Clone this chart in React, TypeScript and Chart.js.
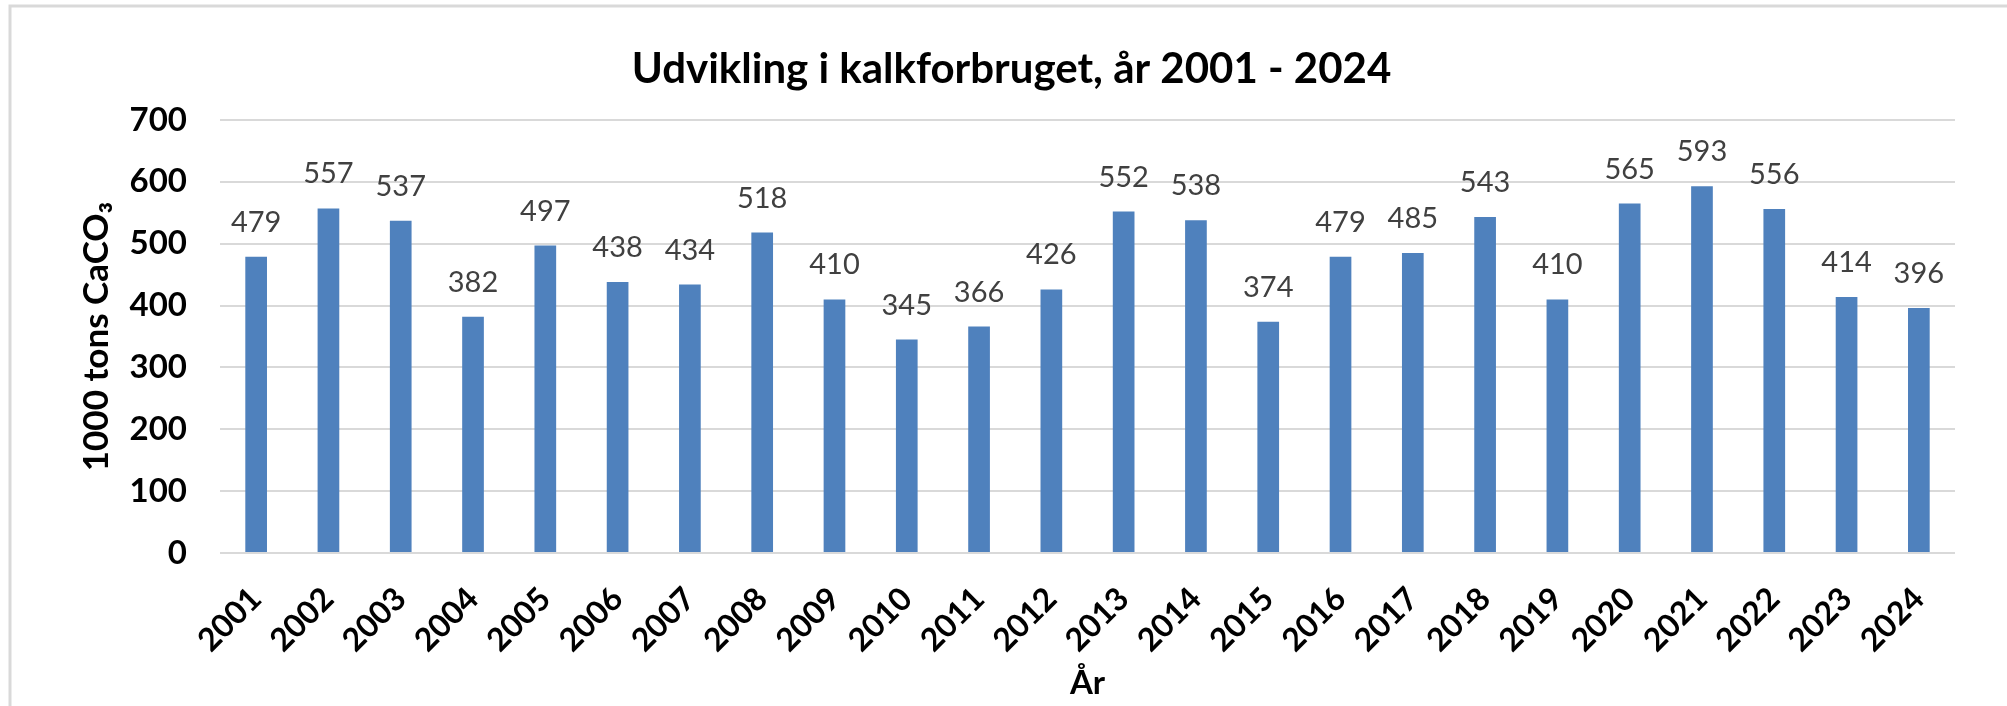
import React, { useEffect, useRef } from "react";
import { Chart, registerables } from "chart.js";

Chart.register(...registerables);

const years = [
  "2001", "2002", "2003", "2004", "2005", "2006", "2007", "2008",
  "2009", "2010", "2011", "2012", "2013", "2014", "2015", "2016",
  "2017", "2018", "2019", "2020", "2021", "2022", "2023", "2024",
];
const consumption = [
  479, 557, 537, 382, 497, 438, 434, 518,
  410, 345, 366, 426, 552, 538, 374, 479,
  485, 543, 410, 565, 593, 556, 414, 396,
];
const yMin = 0;
const yMax = 700;
const yStep = 100;
const chartTitle = "Udvikling i kalkforbruget, år 2001 - 2024";
const yAxisTitle = "1000 tons CaCO₃";
const xAxisTitle = "År";

const FONT = "Lato, 'Open Sans', sans-serif";

const framePlugin = {
  id: "frame",
  beforeDraw(chart: any) {
    const { ctx, width, height } = chart;
    ctx.save();
    ctx.fillStyle = "#ffffff";
    ctx.fillRect(0, 0, width, height);
    ctx.strokeStyle = "#d9d9d9";
    ctx.lineWidth = 3;
    ctx.strokeRect(10, 6, width + 100, height + 100);
    ctx.restore();
  },
};

const valueLabelPlugin = {
  id: "valueLabels",
  afterDatasetsDraw(chart: any) {
    const { ctx } = chart;
    const meta = chart.getDatasetMeta(0);
    const data = chart.data.datasets[0].data;
    ctx.save();
    ctx.font = `29px ${FONT}`;
    ctx.fillStyle = "#404040";
    ctx.textAlign = "center";
    ctx.textBaseline = "alphabetic";
    meta.data.forEach((bar: any, i: number) => {
      ctx.fillText(String(data[i]), bar.x, bar.y - 25);
    });
    ctx.restore();
  },
};

export default function App() {
  const canvasRef = useRef<HTMLCanvasElement | null>(null);

  useEffect(() => {
    document.body.style.margin = "0";
    const canvas = canvasRef.current;
    if (!canvas) return;
    const chart = new Chart(canvas, {
      type: "bar",
      data: {
        labels: years,
        datasets: [
          {
            data: consumption,
            backgroundColor: "#4f81bd",
            borderWidth: 0,
            categoryPercentage: 1,
            barPercentage: 0.3,
          },
        ],
      },
      plugins: [framePlugin, valueLabelPlugin],
      options: {
        responsive: false,
        animation: false,
        devicePixelRatio: 1,
        layout: { padding: { left: 68, right: 52, top: 0, bottom: 0 } },
        plugins: {
          legend: { display: false },
          tooltip: { enabled: false },
          title: {
            display: true,
            text: chartTitle,
            color: "#000000",
            font: { family: FONT, size: 42, weight: "bold" },
            padding: { top: 44, bottom: 25.6 },
          },
        },
        scales: {
          x: {
            grid: { display: false, drawTicks: false },
            border: { display: false },
            ticks: {
              autoSkip: false,
              minRotation: 45,
              maxRotation: 45,
              padding: 27,
              color: "#000000",
              font: { family: FONT, size: 32, weight: "bold" },
            },
            title: {
              display: true,
              text: xAxisTitle,
              color: "#000000",
              font: { family: FONT, size: 33, weight: "bold" },
              padding: { top: 0, bottom: 3 },
            },
            afterFit(scale: any) {
              scale.height = 153;
            },
          },
          y: {
            min: yMin,
            max: yMax,
            grid: { color: "#d9d9d9", lineWidth: 2, drawTicks: false },
            border: { display: false },
            ticks: {
              stepSize: yStep,
              padding: 33,
              color: "#000000",
              font: { family: FONT, size: 33, weight: "bold" },
            },
            title: {
              display: true,
              text: yAxisTitle,
              color: "#000000",
              font: { family: FONT, size: 35, weight: "bold" },
              padding: { top: 8, bottom: 0 },
            },
            afterFit(scale: any) {
              scale.width = 152;
            },
          },
        },
      },
    });
    return () => chart.destroy();
  }, []);

  return (
    <div style={{ width: 2007, height: 706 }}>
      <canvas ref={canvasRef} width={2007} height={706} style={{ display: "block" }} />
    </div>
  );
}
